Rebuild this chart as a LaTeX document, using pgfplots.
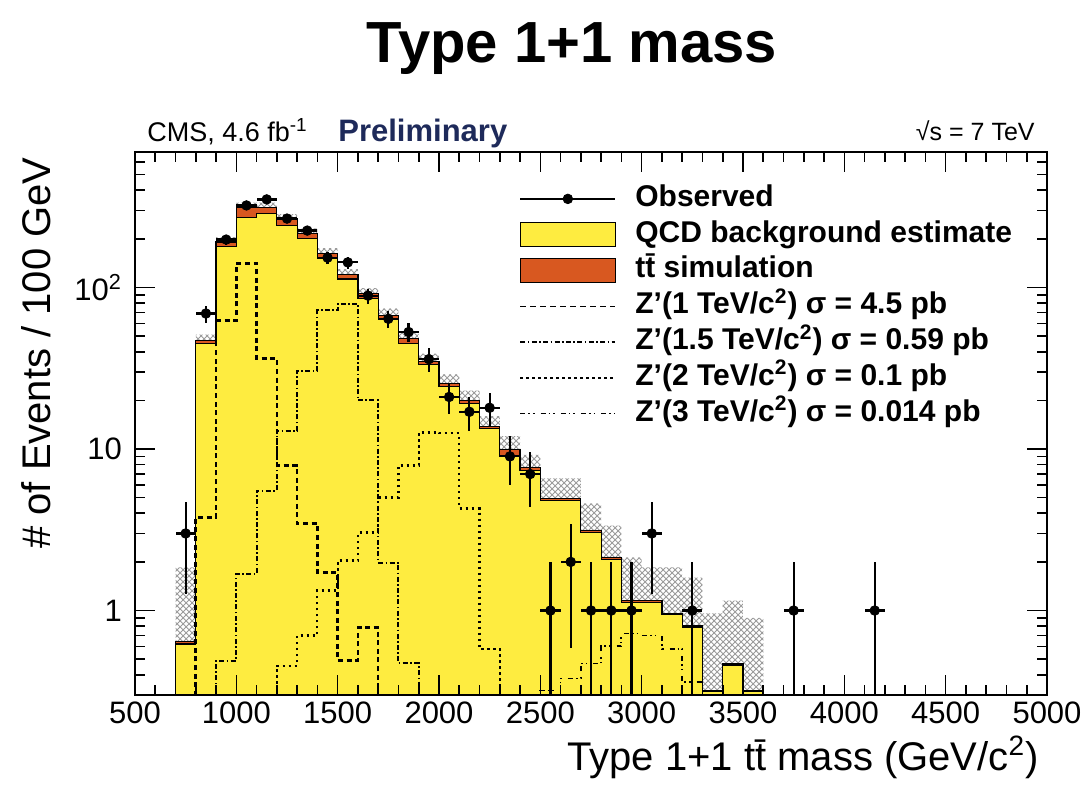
\documentclass[border=0pt]{standalone}
\usepackage{fontspec}
\setmainfont{Liberation Sans}
\usepackage{pgfplots}
\usepackage{pgfplotstable}
\pgfplotsset{compat=1.18}
\usepgfplotslibrary{fillbetween}
\usetikzlibrary{patterns}
\definecolor{qcdyellow}{RGB}{254,236,64}
\definecolor{ttorange}{RGB}{216,88,32}
\definecolor{prelblue}{RGB}{30,42,90}

\pgfplotstableread{
x qcd tot
700 0.62 0.64
800 45 47
900 179.5 191
1000 272 314
1100 286 314
1200 242 266
1300 200 215
1400 154 163
1500 113 120.4
1600 85.1 91.4
1700 63.1 67.1
1800 44.8 48.1
1900 33.4 34.8
2000 24.4 25.4
2100 19.1 20.0
2200 13.4 13.8
2300 9.0 9.9
2400 7.36 7.68
2500 4.80 4.94
2600 4.80 4.94
2700 3.05 3.13
2800 2.08 2.13
2900 1.12 1.153
3000 1.12 1.153
3100 0.94 0.958
3200 0.79 0.807
3300 0.315 0.32
3400 0.46 0.47
3500 0.315 0.32
3600 0.315 0.32
}\stacktab

\pgfplotstableread{
x lo hi
700 0.1 1.85
800 43 51
900 178 205
1000 295 335
1100 295 335
1200 248 285
1300 200 232
1400 152 175
1500 111 130
1600 84 99
1700 61 74
1800 43 53
1900 31 39
2000 22 29
2100 17.5 23
2200 12 16
2300 8.5 12
2400 6.2 9.2
2500 3.27 6.58
2600 3.27 6.58
2700 1.9 4.6
2800 1.39 3.36
2900 0.72 2.13
3000 0.59 1.85
3100 0.49 1.85
3200 0.1 1.6
3300 0.1 0.96
3400 0.1 1.15
3500 0.1 0.9
3600 0.1 0.9
}\bandtab

\pgfplotstableread{
x y
700 0.01
800 3.77
900 62.5
1000 141
1100 36.3
1200 7.9
1300 3.46
1400 1.72
1500 0.49
1600 0.785
1700 0.01
1800 0.01
}\zone

\pgfplotstableread{
x y
800 0.01
900 0.49
1000 1.69
1100 5.53
1200 13.0
1300 30.6
1400 72.1
1500 79.6
1600 20.0
1700 1.98
1800 0.47
1900 0.01
2000 0.01
}\zonefive

\pgfplotstableread{
x y
1100 0.01
1200 0.456
1300 0.70
1400 1.33
1500 2.04
1600 3.04
1700 5.01
1800 7.9
1900 12.65
2000 12.5
2100 4.28
2200 0.58
2300 0.01
2400 0.01
}\ztwo

\pgfplotstableread{
x y
2400 0.01
2500 0.32
2600 0.38
2700 0.47
2800 0.6
2900 0.72
3000 0.7
3100 0.58
3200 0.36
3300 0.01
3400 0.01
}\zthree

\begin{document}
\begin{tikzpicture}
\begin{axis}[
  scale only axis, width=456pt, height=271.5pt,
  xmin=500, xmax=5000, ymin=0.3, ymax=690, ymode=log,
  log origin y=infty,
  axis on top,
  xtick={500,1000,...,5000}, minor x tick num=4,
  ytick={1,10,100}, yticklabels={1,10,10\textsuperscript{2}},
  minor ytick={0.3,0.4,0.5,0.6,0.7,0.8,0.9,2,3,4,5,6,7,8,9,20,30,40,50,60,70,80,90,200,300,400,500,600},
  tick align=inside, tick pos=both,
  major tick length=10pt, minor tick length=5pt,
  every tick/.style={black, line width=0.8pt},
  axis line style={line width=1pt},
  ticklabel style={font=\fontsize{15.5}{18}\selectfont},
  /pgf/number format/assume math mode=true,
  /pgf/number format/set thousands separator={},
  yticklabel style={xshift=-3pt},
  legend style={at={(0.421,0.9466)}, anchor=north west, draw=none, fill=none,
    inner sep=0pt, column sep=8pt, row sep=0.4pt,
    font=\bfseries\fontsize{15}{18}\selectfont,
    nodes={inner sep=1.5pt, text height=11pt, text depth=3.5pt}},
  legend cell align=left,
]
% stack
\addplot[const plot, fill=ttorange, draw=black, line width=0.6pt, forget plot] table[x=x,y=tot]{\stacktab} \closedcycle;
\addplot[const plot, fill=qcdyellow, draw=black, line width=0.6pt, forget plot] table[x=x,y=qcd]{\stacktab} \closedcycle;
% uncertainty band
\addplot[const plot, draw=none, name path=bandhi, forget plot] table[x=x,y=hi]{\bandtab};
\addplot[const plot, draw=none, name path=bandlo, forget plot] table[x=x,y=lo]{\bandtab};
\addplot[pattern=crosshatch, pattern color=gray!80, draw=none, forget plot] fill between[of=bandhi and bandlo];
% signals
\addplot[const plot, black, line width=1.3pt, dash pattern=on 2.5pt off 1.8pt, forget plot] table[x=x,y=y]{\zone};
\addplot[const plot, black, line width=1pt, dash pattern=on 2.5pt off 1.2pt on 0.8pt off 1.2pt, forget plot] table[x=x,y=y]{\zonefive};
\addplot[const plot, black, line width=1.1pt, dash pattern=on 1.2pt off 1.8pt, forget plot] table[x=x,y=y]{\ztwo};
\addplot[const plot, black, line width=0.9pt, dash pattern=on 2.5pt off 1.5pt on 0.8pt off 1.5pt on 0.8pt off 3pt, forget plot] table[x=x,y=y]{\zthree};
% observed
\addplot[black, only marks, mark=*, mark size=2.4pt, forget plot,
  error bars/.cd, x dir=both, x explicit, y dir=both, y explicit, error mark=none,
  error bar style={line width=1.1pt, black}] coordinates {
(750,3) +- (50,1.73)
(850,69) +- (50,8.3)
(950,198) +- (50,14.1)
(1050,322) +- (50,17.9)
(1150,351) +- (50,18.7)
(1250,267) +- (50,16.3)
(1350,225) +- (50,15)
(1450,153) +- (50,12.4)
(1550,143) +- (50,12)
(1650,89) +- (50,9.4)
(1750,64) +- (50,8)
(1850,53) +- (50,7.3)
(1950,36) +- (50,6)
(2050,21) +- (50,4.6)
(2150,17) +- (50,4.1)
(2250,18) +- (50,4.2)
(2350,9) +- (50,3)
(2450,7) +- (50,2.65)
(2550,1) += (50,1) -= (50,0.999)
(2650,2) +- (50,1.41)
(2750,1) += (50,1) -= (50,0.999)
(2850,1) += (50,1) -= (50,0.999)
(2950,1) += (50,1) -= (50,0.999)
(3050,3) +- (50,1.73)
(3250,1) += (50,1) -= (50,0.999)
(3750,1) += (50,1) -= (50,0.999)
(4150,1) += (50,1) -= (50,0.999)
};
% legend
\addlegendimage{legend image code/.code={\draw[black, line width=1pt] (0pt,0pt) -- (47.5pt,0pt); \fill[black] (23.75pt,0pt) circle (2.4pt);}}
\addlegendentry{Observed}
\addlegendimage{legend image code/.code={\draw[fill=qcdyellow, draw=black, line width=0.7pt] (0pt,-6pt) rectangle (47.5pt,6pt);}}
\addlegendentry{QCD background estimate}
\addlegendimage{legend image code/.code={\draw[fill=ttorange, draw=black, line width=0.7pt] (0pt,-6pt) rectangle (47.5pt,6pt);}}
\addlegendentry{t\={t} simulation}
\addlegendimage{legend image code/.code={\draw[black, line width=0.7pt, dash pattern=on 3pt off 2pt] (0pt,0pt) -- (47.5pt,0pt);}}
\addlegendentry{Z'(1 TeV/c\textsuperscript{2}) σ = 4.5 pb}
\addlegendimage{legend image code/.code={\draw[black, line width=0.7pt, dash pattern=on 2.5pt off 1.2pt on 0.8pt off 1.2pt] (0pt,0pt) -- (47.5pt,0pt);}}
\addlegendentry{Z'(1.5 TeV/c\textsuperscript{2}) σ = 0.59 pb}
\addlegendimage{legend image code/.code={\draw[black, line width=0.7pt, dash pattern=on 1.2pt off 1.8pt] (0pt,0pt) -- (47.5pt,0pt);}}
\addlegendentry{Z'(2 TeV/c\textsuperscript{2}) σ = 0.1 pb}
\addlegendimage{legend image code/.code={\draw[black, line width=0.7pt, dash pattern=on 2.5pt off 1.5pt on 0.8pt off 1.5pt on 0.8pt off 3pt] (0pt,0pt) -- (47.5pt,0pt);}}
\addlegendentry{Z'(3 TeV/c\textsuperscript{2}) σ = 0.014 pb}
\end{axis}
\node[anchor=base, font=\bfseries\fontsize{29}{34}\selectfont] at (218.5pt,316pt) {Type 1+1 mass};
\node[anchor=base west, inner sep=0pt, font=\fontsize{13.5}{16}\selectfont] at (6pt,276.5pt) {CMS, 4.6 fb\textsuperscript{-1}};
\node[anchor=base west, inner sep=0pt, font=\bfseries\fontsize{15.5}{18}\selectfont, text=prelblue] at (101.5pt,276.5pt) {Preliminary};
\node[anchor=base east, inner sep=0pt, font=\fontsize{12.5}{15}\selectfont] at (450pt,277pt) {√s = 7 TeV};
\node[anchor=base east, inner sep=0pt, font=\fontsize{20}{24}\selectfont] at (452pt,-38pt) {Type 1+1 t\={t} mass (GeV/c\textsuperscript{2})};
\node[rotate=90, anchor=base east, inner sep=0pt, font=\fontsize{20}{24}\selectfont] at (-42pt,269pt) {\# of Events / 100 GeV};
\pgfresetboundingbox
\path[use as bounding box] (-67.5pt,-50pt) rectangle (476.5pt,347.5pt);
\end{tikzpicture}
\end{document}
